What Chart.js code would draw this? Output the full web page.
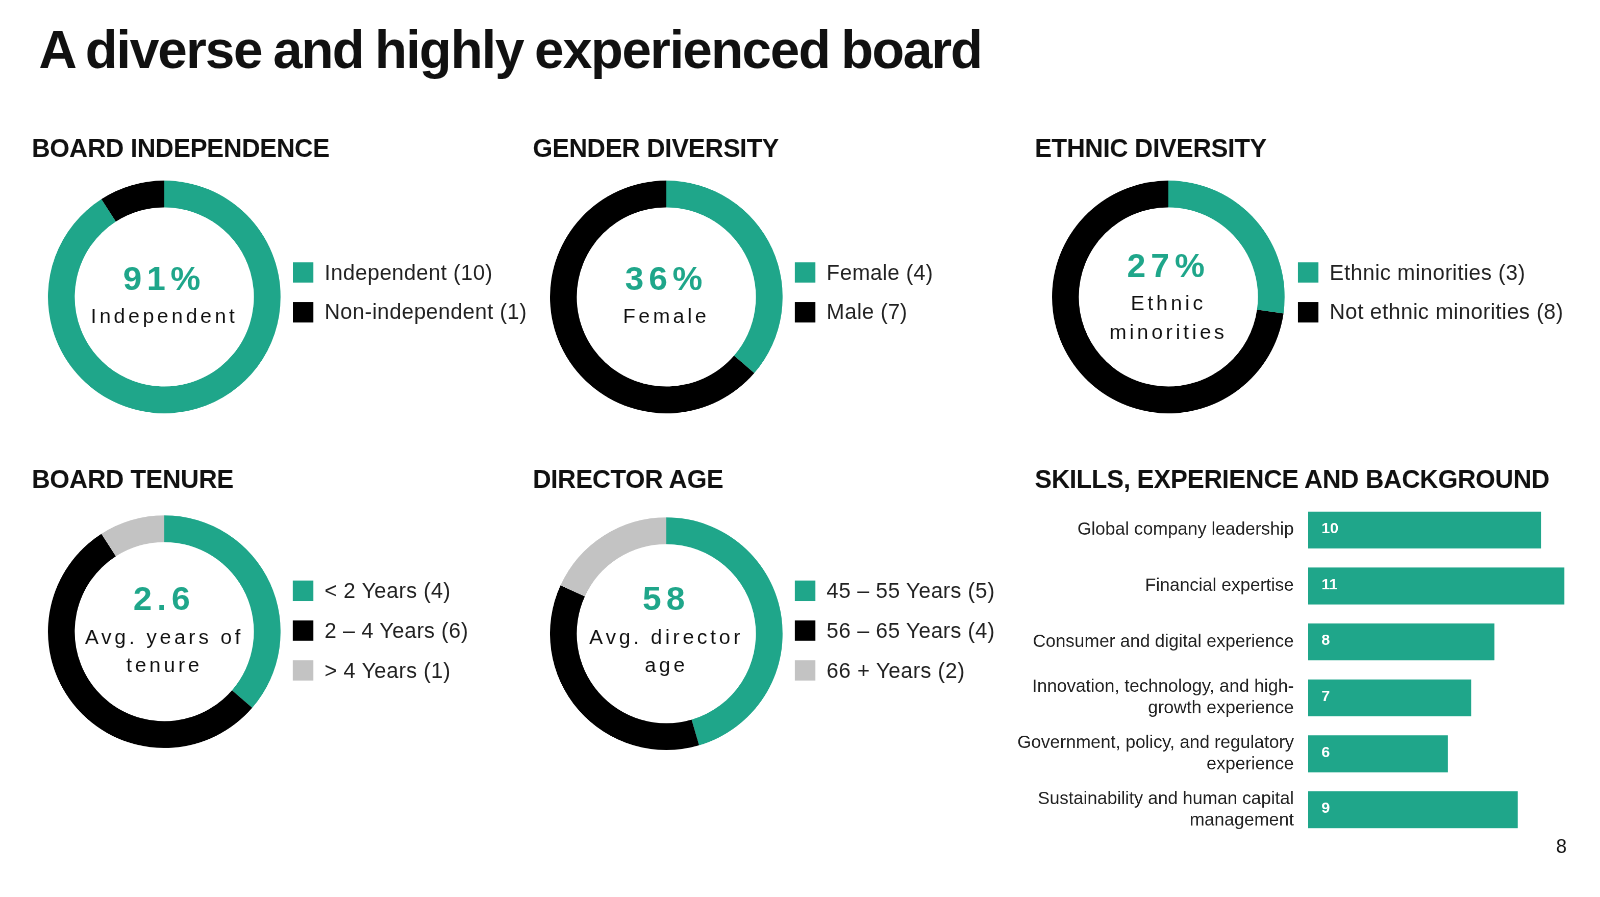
<!DOCTYPE html>
<html>
<head>
<meta charset="utf-8">
<script src="https://cdn.jsdelivr.net/npm/chart.js@4"></script>
<style>
  body { margin: 0; width: 1600px; height: 897px; background: #fff; font-family: "Liberation Sans", Arial, sans-serif; color: #111; overflow: hidden; }
  #page { position: absolute; left: 0; top: 0; width: 1568px; height: 880px; transform: scale(1.0204); transform-origin: 0 0; }
  .abs { position: absolute; }
  h1 { position: absolute; left: 38px; top: 19px; margin: 0; font-size: 52px; font-weight: bold; letter-spacing: -1.3px; word-spacing: -2px; }
  .head { position: absolute; margin: 0; font-size: 25px; font-weight: bold; letter-spacing: -0.3px; }
  .donut { position: absolute; width: 228px; height: 228px; }
  .center { position: absolute; width: 228px; text-align: center; }
  .big { color: #1fa68a; font-size: 33px; font-weight: bold; letter-spacing: 5px; line-height: 46px; }
  .sub { font-size: 20px; letter-spacing: 3px; line-height: 28px; color: #111; }
  .legend { position: absolute; font-size: 21px; letter-spacing: 0.3px; color: #222; }
  .legend div { height: 39px; display: flex; align-items: center; white-space: nowrap; }
  .legend span.sw { width: 20px; height: 20px; display: inline-block; margin-right: 11px; }
  .pnum { position: absolute; left: 1525px; top: 819px; font-size: 19px; }
</style>
</head>
<body>
<div id="page">
<h1>A diverse and highly experienced board</h1>

<div class="head" style="left:31px;top:131px">BOARD INDEPENDENCE</div>
<div class="head" style="left:522px;top:131px">GENDER DIVERSITY</div>
<div class="head" style="left:1014px;top:131px">ETHNIC DIVERSITY</div>
<div class="head" style="left:31px;top:455px">BOARD TENURE</div>
<div class="head" style="left:522px;top:455px">DIRECTOR AGE</div>
<div class="head" style="left:1014px;top:455px">SKILLS, EXPERIENCE AND BACKGROUND</div>

<div class="donut" style="left:47px;top:177px"><canvas id="indepChart"></canvas></div>
<div class="donut" style="left:539px;top:177px"><canvas id="genderChart"></canvas></div>
<div class="donut" style="left:1031px;top:177px"><canvas id="ethnicChart"></canvas></div>
<div class="donut" style="left:47px;top:505px"><canvas id="tenureChart"></canvas></div>
<div class="donut" style="left:539px;top:507px"><canvas id="ageChart"></canvas></div>

<div class="center" style="left:47px;top:250px"><div class="big">91%</div><div class="sub">Independent</div></div>
<div class="center" style="left:539px;top:250px"><div class="big">36%</div><div class="sub">Female</div></div>
<div class="center" style="left:1031px;top:237px"><div class="big">27%</div><div class="sub">Ethnic<br>minorities</div></div>
<div class="center" style="left:47px;top:564px"><div class="big">2.6</div><div class="sub">Avg. years of<br>tenure</div></div>
<div class="center" style="left:539px;top:564px"><div class="big">58</div><div class="sub">Avg. director<br>age</div></div>

<div class="legend" id="indepLegend" style="left:287px;top:247px"></div>
<div class="legend" id="genderLegend" style="left:779px;top:247px"></div>
<div class="legend" id="ethnicLegend" style="left:1272px;top:247px"></div>
<div class="legend" id="tenureLegend" style="left:287px;top:559px"></div>
<div class="legend" id="ageLegend" style="left:779px;top:559px"></div>

<div class="abs" style="left:990px;top:492px;width:543px;height:329px"><canvas id="skillsChart"></canvas></div>

<div class="pnum">8</div>
</div>

<script>
const teal = '#1fa68a';
const black = '#000000';
const grey = '#c3c3c3';

// Données des anneaux
const indepLabels = ['Independent', 'Non-independent'];
const indepValues = [10, 1];
const genderLabels = ['Female', 'Male'];
const genderValues = [4, 7];
const ethnicLabels = ['Ethnic minorities', 'Not ethnic minorities'];
const ethnicValues = [3, 8];
const tenureLabels = ['< 2 Years', '2 – 4 Years', '> 4 Years'];
const tenureValues = [4, 6, 1];
const ageLabels = ['45 – 55 Years', '56 – 65 Years', '66 + Years'];
const ageValues = [5, 4, 2];

// Données des compétences
const skillLabels = [
    'Global company leadership',
    'Financial expertise',
    'Consumer and digital experience',
    ['Innovation, technology, and high-', 'growth experience'],
    ['Government, policy, and regulatory', 'experience'],
    ['Sustainability and human capital', 'management'],
];
const skillValues = [10, 11, 8, 7, 6, 9];

function buildLegend(id, labels, values, colors) {
    const el = document.getElementById(id);
    labels.forEach((l, i) => {
        const row = document.createElement('div');
        row.innerHTML = '<span class="sw" style="background:' + colors[i] + '"></span>' + l + ' (' + values[i] + ')';
        el.appendChild(row);
    });
}

function initDonut(id, labels, values, colors) {
    new Chart(document.getElementById(id), {
        type: 'doughnut',
        data: {
            labels: labels,
            datasets: [{ data: values, backgroundColor: colors, borderWidth: 0 }],
        },
        options: {
            responsive: true,
            maintainAspectRatio: false,
            animation: false,
            devicePixelRatio: 2,
            cutout: '77%',
            plugins: { legend: { display: false }, tooltip: { enabled: false } },
        },
    });
    buildLegend(id.replace('Chart', 'Legend'), labels, values, colors);
}

// Valeurs écrites dans les barres
const valueLabels = {
    id: 'valueLabels',
    afterDatasetsDraw(chart) {
        const ctx = chart.ctx;
        ctx.save();
        ctx.fillStyle = '#fff';
        ctx.font = 'bold 15px "Liberation Sans", Arial, sans-serif';
        ctx.textBaseline = 'middle';
        chart.getDatasetMeta(0).data.forEach((bar, i) => {
            ctx.fillText(skillValues[i], bar.base + 13, bar.y - 1);
        });
        ctx.restore();
    }
};

function initSkillsChart() {
    new Chart(document.getElementById('skillsChart'), {
        type: 'bar',
        data: {
            labels: skillLabels,
            datasets: [{
                data: skillValues,
                backgroundColor: teal,
                borderWidth: 0,
                categoryPercentage: 1,
                barPercentage: 0.66,
            }],
        },
        options: {
            indexAxis: 'y',
            responsive: true,
            maintainAspectRatio: false,
            animation: false,
            devicePixelRatio: 2,
            layout: { padding: 0 },
            plugins: { legend: { display: false }, tooltip: { enabled: false } },
            scales: {
                x: { display: false, min: 0, max: 11 },
                y: {
                    grid: { display: false, drawTicks: false },
                    border: { display: false },
                    afterFit: (scale) => {
                        scale.width = 292;
                        scale.paddingTop = 0;
                        scale.paddingBottom = 0;
                    },
                    ticks: {
                        color: '#222',
                        padding: 14,
                        font: { size: 17.5, family: '"Liberation Sans", Arial, sans-serif', lineHeight: 1.2 },
                    },
                },
            },
        },
        plugins: [valueLabels],
    });
}

document.addEventListener('DOMContentLoaded', () => {
    initDonut('indepChart', indepLabels, indepValues, [teal, black]);
    initDonut('genderChart', genderLabels, genderValues, [teal, black]);
    initDonut('ethnicChart', ethnicLabels, ethnicValues, [teal, black]);
    initDonut('tenureChart', tenureLabels, tenureValues, [teal, black, grey]);
    initDonut('ageChart', ageLabels, ageValues, [teal, black, grey]);
    initSkillsChart();
});
</script>
</body>
</html>
